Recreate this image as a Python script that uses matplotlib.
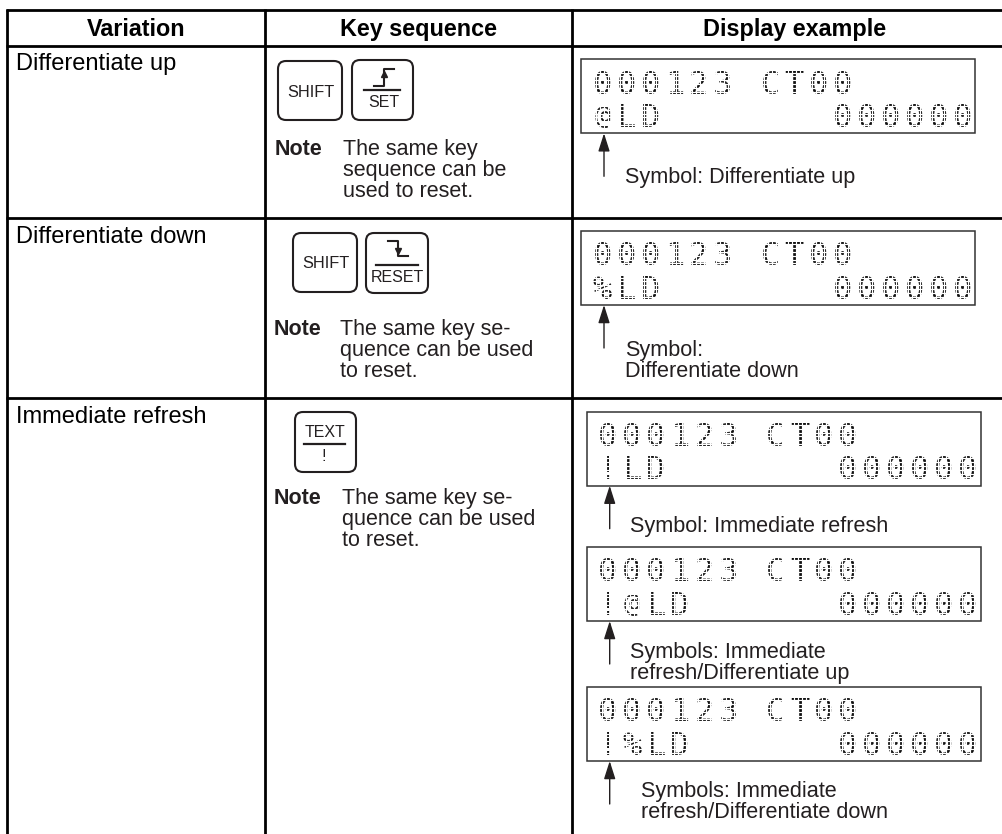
import numpy as np
import matplotlib.pyplot as plt
from matplotlib.patches import FancyBboxPatch, Rectangle

plt.rcParams['font.family'] = ['Liberation Sans', 'DejaVu Sans']

INK = '#231f20'

# Table text
headers = ['Variation', 'Key sequence', 'Display example']
header_x = [136, 419, 795]
variations = ['Differentiate up', 'Differentiate down', 'Immediate refresh']
variation_y = [70, 243, 423]

# Horizontal and vertical rules
row_lines = [9.5, 46, 217.5, 397.5]
col_lines = [7.5, 265, 572]

# Notes: x of note text, baseline of first line, lines
note_x = [275, 274, 274]
note_text_x = [343, 340, 342]
note_y = [155, 335, 504]
note_lines = [['The same key', 'sequence can be', 'used to reset.'],
              ['The same key se-', 'quence can be used', 'to reset.'],
              ['The same key se-', 'quence can be used', 'to reset.']]

# Key caps: left, top, right, bottom
key_boxes = [(278, 61, 342, 120), (352, 60, 413, 120),
             (293, 233, 357, 292), (366, 233, 428, 293),
             (295, 412, 356, 472)]
shift_pos = [(310.5, 92), (325.5, 263)]
set_pos = (384, 102)
reset_pos = (397, 277)
text_pos = (325, 432)
bang_pos = (324, 456)

# Display boxes
display_x = [581, 581, 586.7, 586.7, 586.7]
display_y = [59.3, 231, 411.7, 547, 687]
display_w = 394.3
display_h = 74
line_1 = '000123 CT00'
line_2 = ['@LD       000000', '%LD       000000', '!LD       000000',
          '!@LD      000000', '!%LD      000000']

# Captions under each display
caption_x = [625, 625, 630, 630, 640.7]
caption_y = [183, 356, 532, 658, 796.7]
captions = [['Symbol: Differentiate up'],
            ['Symbol:', 'Differentiate down'],
            ['Symbol: Immediate refresh'],
            ['Symbols: Immediate', 'refresh/Differentiate up'],
            ['Symbols: Immediate', 'refresh/Differentiate down']]
arrow_len = [43, 43, 43, 43, 43]


def draw_key(ax, left, top, right, bottom):
    r = 8
    ax.add_patch(FancyBboxPatch((left + r, top + r), right - left - 2 * r, bottom - top - 2 * r,
                                boxstyle=f'round,pad={r},rounding_size={r}',
                                fc='white', ec=INK, lw=1.5, zorder=2))


def draw_lcd_row(ax, text, x0, y0):
    # real characters, chopped into dots by a white grid laid on top
    for i, ch in enumerate(text):
        size, base = 23, 23
        if ch == '@':
            size, base = 19, 20   # the @ has a descender, keep it inside the row
        ax.text(x0 + i * 24 + 8, y0 + base, ch, family='DejaVu Sans Mono',
                fontsize=size, color='#111111', ha='center', va='baseline', zorder=3)
    right = x0 + 15 * 24 + 18
    for k in range(-1, 7):
        y = y0 + (k + 0.5) * 3.83
        ax.plot([x0 - 3, right], [y, y], color='white', lw=0.85, zorder=4, solid_capstyle='butt')
    for x in np.arange(x0 - 2, right, 4):
        ax.plot([x, x], [y0 - 2, y0 + 25], color='white', lw=0.85, zorder=4, solid_capstyle='butt')


def main():
    fig = plt.figure(figsize=(10.03, 8.34), dpi=100)
    ax = fig.add_axes([0, 0, 1, 1])
    ax.set_xlim(0, 1003)
    ax.set_ylim(834, 0)
    ax.axis('off')

    # Table rules
    for y in row_lines:
        ax.plot([6, 1003], [y, y], color='black', lw=2.0, solid_capstyle='butt')
    for x in col_lines:
        ax.plot([x, x], [9, 834], color='black', lw=2.0, solid_capstyle='butt')

    for h, x in zip(headers, header_x):
        ax.text(x, 35.7, h, fontsize=16.8, weight='bold', ha='center', va='baseline', color='black')
    for v, y in zip(variations, variation_y):
        ax.text(16, y, v, fontsize=17, va='baseline', color='black')

    # Notes
    for i in range(3):
        ax.text(note_x[i], note_y[i], 'Note', fontsize=15.5, weight='bold', va='baseline', color=INK)
        for j, line in enumerate(note_lines[i]):
            ax.text(note_text_x[i], note_y[i] + j * 20.8, line, fontsize=15.5, va='baseline', color=INK)

    # Keys
    for k in key_boxes:
        draw_key(ax, *k)
    for x, y in shift_pos:
        ax.text(x, y, 'SHIFT', fontsize=11.8, ha='center', va='center', color=INK, zorder=3)
    ax.plot([364, 400], [90, 90], color=INK, lw=1.6, zorder=3)
    ax.text(*set_pos, 'SET', fontsize=11.5, ha='center', va='center', color=INK, zorder=3)
    ax.plot([374, 384, 384, 394], [85.5, 85.5, 69, 69], color=INK, lw=1.5, zorder=3)
    ax.plot([384], [74], marker='^', ms=5, color=INK, zorder=3)
    ax.plot([376, 418], [265, 265], color=INK, lw=1.6, zorder=3)
    ax.text(*reset_pos, 'RESET', fontsize=11.5, ha='center', va='center', color=INK, zorder=3)
    ax.plot([388, 398, 398, 408], [241, 241, 256, 256], color=INK, lw=1.5, zorder=3)
    ax.plot([398], [251], marker='v', ms=5, color=INK, zorder=3)
    ax.plot([304, 345], [443.5, 443.5], color=INK, lw=1.6, zorder=3)
    ax.text(*text_pos, 'TEXT', fontsize=11.5, ha='center', va='center', color=INK, zorder=3)
    ax.text(*bang_pos, '!', fontsize=11.5, ha='center', va='center', color=INK, zorder=3)

    # Displays with arrows and captions
    for i in range(5):
        x, y = display_x[i], display_y[i]
        ax.add_patch(Rectangle((x, y), display_w, display_h, fc='none', ec='#333333', lw=1.1, zorder=5))
        draw_lcd_row(ax, line_1, x + 13.3, y + 11.3)
        draw_lcd_row(ax, line_2[i], x + 13.3, y + 44.7)

        ax_x = x + 23
        tip = y + display_h
        ax.annotate('', xy=(ax_x, tip), xytext=(ax_x, tip + arrow_len[i]),
                    arrowprops=dict(arrowstyle='-|>,head_length=1.1,head_width=0.35', color=INK,
                                    lw=1.0, shrinkA=0, shrinkB=0), zorder=6)
        for j, line in enumerate(captions[i]):
            ax.text(caption_x[i], caption_y[i] + j * 20.8, line, fontsize=15.6, va='baseline', color=INK)

    fig.savefig('out.png', dpi=100, facecolor='white')
    plt.close()


if __name__ == '__main__':
    main()
